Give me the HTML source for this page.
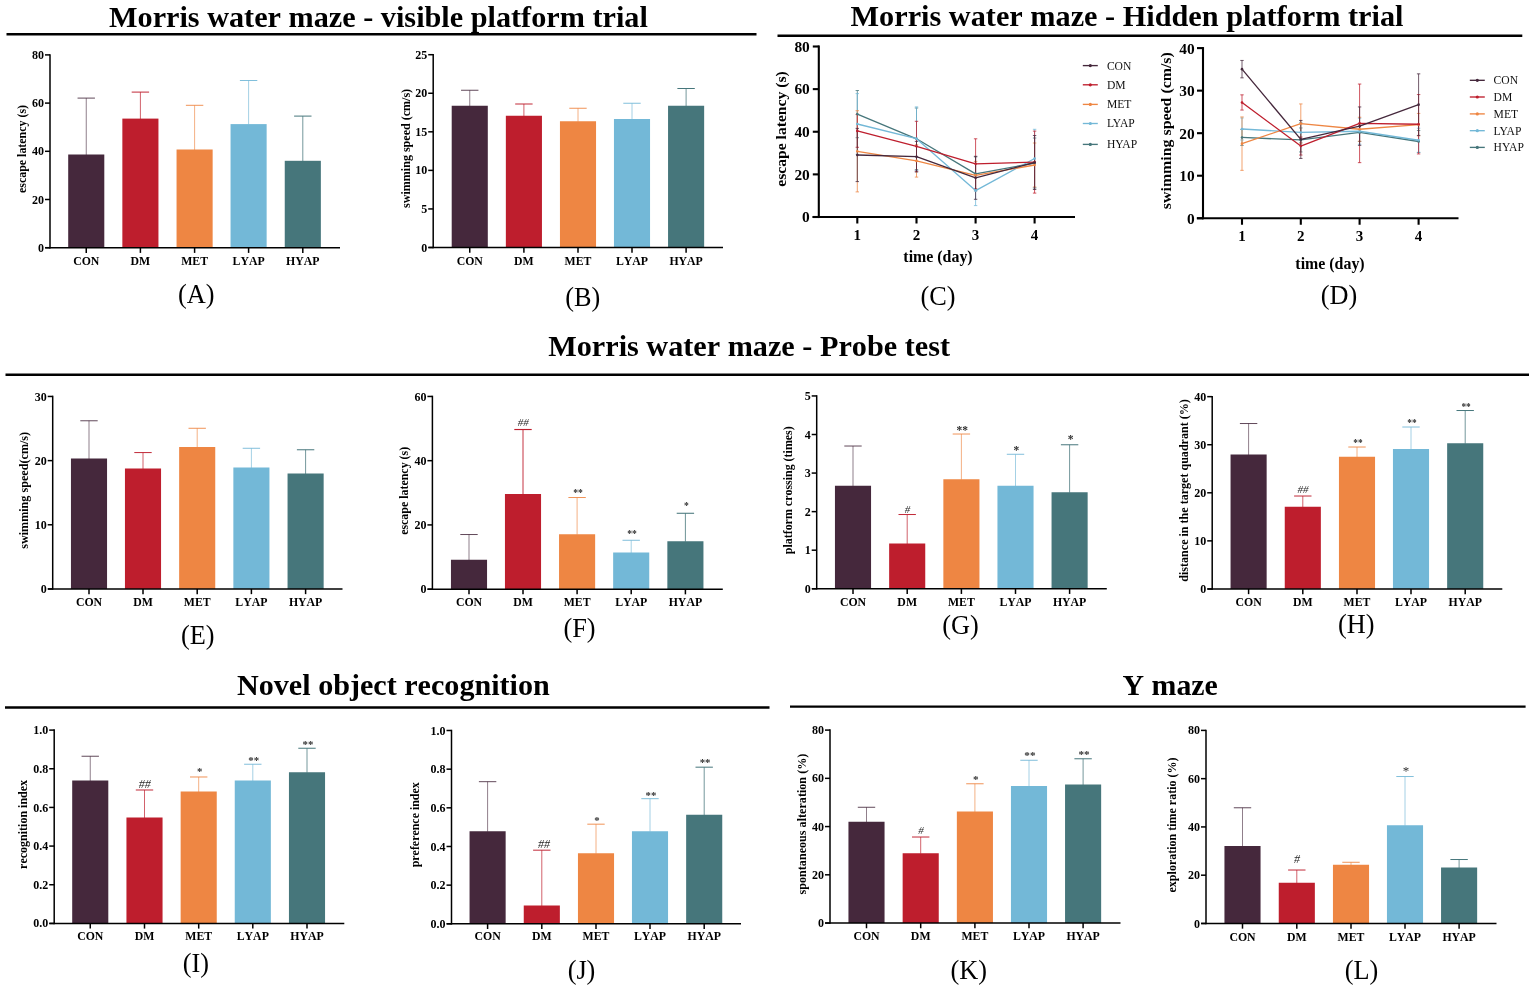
<!DOCTYPE html>
<html lang="en">
<head>
<meta charset="utf-8">
<title>Behavioral test results</title>
<style>
html,body{margin:0;padding:0;background:#fff;}
body{width:1535px;height:989px;overflow:hidden;font-family:"Liberation Serif","DejaVu Serif",serif;}
svg{display:block;}
text{font-family:"Liberation Serif","DejaVu Serif",serif;font-kerning:none;}
</style>
</head>
<body>
<svg width="1535" height="989" viewBox="0 0 1535 989" font-family='"Liberation Serif","DejaVu Serif",serif'>
<rect width="1535" height="989" fill="#fff"/>
<text x="378.4" y="26.6" font-size="30.4" text-anchor="middle" fill="#000" font-weight="bold" textLength="538.8" lengthAdjust="spacingAndGlyphs">Morris water maze - visible platform trial</text>
<line x1="6.5" y1="34.2" x2="756.5" y2="34.2" stroke="#000" stroke-width="2.4"/>
<text x="1127" y="25.8" font-size="30.4" text-anchor="middle" fill="#000" font-weight="bold" textLength="553" lengthAdjust="spacingAndGlyphs">Morris water maze - Hidden platform trial</text>
<line x1="777.5" y1="35.8" x2="1522.3" y2="35.8" stroke="#000" stroke-width="2.4"/>
<text x="749.1" y="356.2" font-size="30.4" text-anchor="middle" fill="#000" font-weight="bold" textLength="401.8" lengthAdjust="spacingAndGlyphs">Morris water maze - Probe test</text>
<line x1="5.5" y1="374.7" x2="1529" y2="374.7" stroke="#000" stroke-width="2.4"/>
<text x="393.4" y="695" font-size="30.4" text-anchor="middle" fill="#000" font-weight="bold" textLength="312.8" lengthAdjust="spacingAndGlyphs">Novel object recognition</text>
<line x1="5" y1="707.5" x2="769.5" y2="707.5" stroke="#000" stroke-width="2.4"/>
<text x="1170.2" y="695.2" font-size="30.4" text-anchor="middle" fill="#000" font-weight="bold" textLength="95.2" lengthAdjust="spacingAndGlyphs">Y maze</text>
<line x1="790" y1="706.6" x2="1525.6" y2="706.6" stroke="#000" stroke-width="2.4"/>
<g>
<line x1="86.25" y1="98.1" x2="86.25" y2="155" stroke="#45283c" stroke-width="0.6"/>
<line x1="77.55" y1="98.1" x2="94.95" y2="98.1" stroke="#45283c" stroke-width="0.85"/>
<rect x="68.2" y="154.5" width="36.1" height="93.2" fill="#45283c"/>
<line x1="140.4" y1="92.1" x2="140.4" y2="119.1" stroke="#be1e2d" stroke-width="0.7"/>
<line x1="131.7" y1="92.1" x2="149.1" y2="92.1" stroke="#be1e2d" stroke-width="0.95"/>
<rect x="122.35" y="118.6" width="36.1" height="129.1" fill="#be1e2d"/>
<line x1="194.6" y1="105.3" x2="194.6" y2="150" stroke="#ee8643" stroke-width="0.65"/>
<line x1="185.9" y1="105.3" x2="203.3" y2="105.3" stroke="#ee8643" stroke-width="0.9"/>
<rect x="176.55" y="149.5" width="36.1" height="98.2" fill="#ee8643"/>
<line x1="248.6" y1="80.5" x2="248.6" y2="124.6" stroke="#73b8d7" stroke-width="0.65"/>
<line x1="239.9" y1="80.5" x2="257.3" y2="80.5" stroke="#73b8d7" stroke-width="0.9"/>
<rect x="230.55" y="124.1" width="36.1" height="123.6" fill="#73b8d7"/>
<line x1="302.8" y1="116.1" x2="302.8" y2="161.3" stroke="#46767b" stroke-width="0.75"/>
<line x1="294.1" y1="116.1" x2="311.5" y2="116.1" stroke="#46767b" stroke-width="1"/>
<rect x="284.75" y="160.8" width="36.1" height="86.9" fill="#46767b"/>
</g>
<g transform="translate(0 0)">
<line x1="50" y1="54.15" x2="50" y2="248.45" stroke="#000" stroke-width="1.5"/>
<line x1="45.3" y1="247.7" x2="340" y2="247.7" stroke="#000" stroke-width="1.5"/>
<line x1="45" y1="247.7" x2="50" y2="247.7" stroke="#000" stroke-width="1.5"/>
<text x="44" y="251.8" font-size="12" text-anchor="end" fill="#000" font-weight="bold">0</text>
<line x1="45" y1="199.5" x2="50" y2="199.5" stroke="#000" stroke-width="1.5"/>
<text x="44" y="203.6" font-size="12" text-anchor="end" fill="#000" font-weight="bold">20</text>
<line x1="45" y1="151.3" x2="50" y2="151.3" stroke="#000" stroke-width="1.5"/>
<text x="44" y="155.4" font-size="12" text-anchor="end" fill="#000" font-weight="bold">40</text>
<line x1="45" y1="103.1" x2="50" y2="103.1" stroke="#000" stroke-width="1.5"/>
<text x="44" y="107.2" font-size="12" text-anchor="end" fill="#000" font-weight="bold">60</text>
<line x1="45" y1="54.9" x2="50" y2="54.9" stroke="#000" stroke-width="1.5"/>
<text x="44" y="59" font-size="12" text-anchor="end" fill="#000" font-weight="bold">80</text>
<line x1="86.25" y1="247.7" x2="86.25" y2="252.9" stroke="#000" stroke-width="1.5"/>
<text x="86.25" y="264.6" font-size="11.8" text-anchor="middle" fill="#000" font-weight="bold">CON</text>
<line x1="140.4" y1="247.7" x2="140.4" y2="252.9" stroke="#000" stroke-width="1.5"/>
<text x="140.4" y="264.6" font-size="11.8" text-anchor="middle" fill="#000" font-weight="bold">DM</text>
<line x1="194.6" y1="247.7" x2="194.6" y2="252.9" stroke="#000" stroke-width="1.5"/>
<text x="194.6" y="264.6" font-size="11.8" text-anchor="middle" fill="#000" font-weight="bold">MET</text>
<line x1="248.6" y1="247.7" x2="248.6" y2="252.9" stroke="#000" stroke-width="1.5"/>
<text x="248.6" y="264.6" font-size="11.8" text-anchor="middle" fill="#000" font-weight="bold">LYAP</text>
<line x1="302.8" y1="247.7" x2="302.8" y2="252.9" stroke="#000" stroke-width="1.5"/>
<text x="302.8" y="264.6" font-size="11.8" text-anchor="middle" fill="#000" font-weight="bold">HYAP</text>
<text x="25.8" y="149" font-size="12" text-anchor="middle" fill="#000" font-weight="bold" textLength="88" lengthAdjust="spacingAndGlyphs" transform="rotate(-90 25.8 149)">escape latency (s)</text>
</g>
<text x="196.3" y="303.3" font-size="26.3" text-anchor="middle" fill="#000">(A)</text>
<g>
<line x1="469.75" y1="90.25" x2="469.75" y2="106.25" stroke="#45283c" stroke-width="0.6"/>
<line x1="461.05" y1="90.25" x2="478.45" y2="90.25" stroke="#45283c" stroke-width="0.85"/>
<rect x="451.7" y="105.75" width="36.1" height="141.75" fill="#45283c"/>
<line x1="523.9" y1="104" x2="523.9" y2="116.25" stroke="#be1e2d" stroke-width="0.7"/>
<line x1="515.2" y1="104" x2="532.6" y2="104" stroke="#be1e2d" stroke-width="0.95"/>
<rect x="505.85" y="115.75" width="36.1" height="131.75" fill="#be1e2d"/>
<line x1="578" y1="108.25" x2="578" y2="121.75" stroke="#ee8643" stroke-width="0.65"/>
<line x1="569.3" y1="108.25" x2="586.7" y2="108.25" stroke="#ee8643" stroke-width="0.9"/>
<rect x="559.95" y="121.25" width="36.1" height="126.25" fill="#ee8643"/>
<line x1="632" y1="103.25" x2="632" y2="119.5" stroke="#73b8d7" stroke-width="0.65"/>
<line x1="623.3" y1="103.25" x2="640.7" y2="103.25" stroke="#73b8d7" stroke-width="0.9"/>
<rect x="613.95" y="119" width="36.1" height="128.5" fill="#73b8d7"/>
<line x1="686.1" y1="88.5" x2="686.1" y2="106.25" stroke="#46767b" stroke-width="0.75"/>
<line x1="677.4" y1="88.5" x2="694.8" y2="88.5" stroke="#46767b" stroke-width="1"/>
<rect x="668.05" y="105.75" width="36.1" height="141.75" fill="#46767b"/>
</g>
<g transform="translate(0 0)">
<line x1="433.2" y1="53.95" x2="433.2" y2="248.25" stroke="#000" stroke-width="1.5"/>
<line x1="428.5" y1="247.5" x2="723" y2="247.5" stroke="#000" stroke-width="1.5"/>
<line x1="428.2" y1="247.5" x2="433.2" y2="247.5" stroke="#000" stroke-width="1.5"/>
<text x="427.2" y="251.6" font-size="12" text-anchor="end" fill="#000" font-weight="bold">0</text>
<line x1="428.2" y1="208.94" x2="433.2" y2="208.94" stroke="#000" stroke-width="1.5"/>
<text x="427.2" y="213.04" font-size="12" text-anchor="end" fill="#000" font-weight="bold">5</text>
<line x1="428.2" y1="170.38" x2="433.2" y2="170.38" stroke="#000" stroke-width="1.5"/>
<text x="427.2" y="174.48" font-size="12" text-anchor="end" fill="#000" font-weight="bold">10</text>
<line x1="428.2" y1="131.82" x2="433.2" y2="131.82" stroke="#000" stroke-width="1.5"/>
<text x="427.2" y="135.92" font-size="12" text-anchor="end" fill="#000" font-weight="bold">15</text>
<line x1="428.2" y1="93.26" x2="433.2" y2="93.26" stroke="#000" stroke-width="1.5"/>
<text x="427.2" y="97.36" font-size="12" text-anchor="end" fill="#000" font-weight="bold">20</text>
<line x1="428.2" y1="54.7" x2="433.2" y2="54.7" stroke="#000" stroke-width="1.5"/>
<text x="427.2" y="58.8" font-size="12" text-anchor="end" fill="#000" font-weight="bold">25</text>
<line x1="469.75" y1="247.5" x2="469.75" y2="252.7" stroke="#000" stroke-width="1.5"/>
<text x="469.75" y="264.5" font-size="11.8" text-anchor="middle" fill="#000" font-weight="bold">CON</text>
<line x1="523.9" y1="247.5" x2="523.9" y2="252.7" stroke="#000" stroke-width="1.5"/>
<text x="523.9" y="264.5" font-size="11.8" text-anchor="middle" fill="#000" font-weight="bold">DM</text>
<line x1="578" y1="247.5" x2="578" y2="252.7" stroke="#000" stroke-width="1.5"/>
<text x="578" y="264.5" font-size="11.8" text-anchor="middle" fill="#000" font-weight="bold">MET</text>
<line x1="632" y1="247.5" x2="632" y2="252.7" stroke="#000" stroke-width="1.5"/>
<text x="632" y="264.5" font-size="11.8" text-anchor="middle" fill="#000" font-weight="bold">LYAP</text>
<line x1="686.1" y1="247.5" x2="686.1" y2="252.7" stroke="#000" stroke-width="1.5"/>
<text x="686.1" y="264.5" font-size="11.8" text-anchor="middle" fill="#000" font-weight="bold">HYAP</text>
<text x="409.8" y="148.4" font-size="12" text-anchor="middle" fill="#000" font-weight="bold" textLength="119" lengthAdjust="spacingAndGlyphs" transform="rotate(-90 409.8 148.4)">swimming speed (cm/s)</text>
</g>
<text x="582.8" y="306.2" font-size="26.3" text-anchor="middle" fill="#000">(B)</text>
<g>
<line x1="89" y1="420.77" x2="89" y2="459" stroke="#45283c" stroke-width="0.6"/>
<line x1="80.3" y1="420.77" x2="97.7" y2="420.77" stroke="#45283c" stroke-width="0.85"/>
<rect x="70.95" y="458.5" width="36.1" height="130.45" fill="#45283c"/>
<line x1="143" y1="452.57" x2="143" y2="469" stroke="#be1e2d" stroke-width="0.7"/>
<line x1="134.3" y1="452.57" x2="151.7" y2="452.57" stroke="#be1e2d" stroke-width="0.95"/>
<rect x="124.95" y="468.5" width="36.1" height="120.45" fill="#be1e2d"/>
<line x1="197.2" y1="428.27" x2="197.2" y2="447.5" stroke="#ee8643" stroke-width="0.65"/>
<line x1="188.5" y1="428.27" x2="205.9" y2="428.27" stroke="#ee8643" stroke-width="0.9"/>
<rect x="179.15" y="447" width="36.1" height="141.95" fill="#ee8643"/>
<line x1="251.4" y1="448.27" x2="251.4" y2="468" stroke="#73b8d7" stroke-width="0.65"/>
<line x1="242.7" y1="448.27" x2="260.1" y2="448.27" stroke="#73b8d7" stroke-width="0.9"/>
<rect x="233.35" y="467.5" width="36.1" height="121.45" fill="#73b8d7"/>
<line x1="305.6" y1="449.77" x2="305.6" y2="474" stroke="#46767b" stroke-width="0.75"/>
<line x1="296.9" y1="449.77" x2="314.3" y2="449.77" stroke="#46767b" stroke-width="1"/>
<rect x="287.55" y="473.5" width="36.1" height="115.45" fill="#46767b"/>
</g>
<g transform="translate(0 0.45)">
<line x1="52.7" y1="395.25" x2="52.7" y2="589.25" stroke="#000" stroke-width="1.5"/>
<line x1="47.9" y1="588.5" x2="342.5" y2="588.5" stroke="#000" stroke-width="1.5"/>
<line x1="47.7" y1="588.5" x2="52.7" y2="588.5" stroke="#000" stroke-width="1.5"/>
<text x="46.7" y="592.6" font-size="12" text-anchor="end" fill="#000" font-weight="bold">0</text>
<line x1="47.7" y1="524.33" x2="52.7" y2="524.33" stroke="#000" stroke-width="1.5"/>
<text x="46.7" y="528.43" font-size="12" text-anchor="end" fill="#000" font-weight="bold">10</text>
<line x1="47.7" y1="460.17" x2="52.7" y2="460.17" stroke="#000" stroke-width="1.5"/>
<text x="46.7" y="464.27" font-size="12" text-anchor="end" fill="#000" font-weight="bold">20</text>
<line x1="47.7" y1="396" x2="52.7" y2="396" stroke="#000" stroke-width="1.5"/>
<text x="46.7" y="400.1" font-size="12" text-anchor="end" fill="#000" font-weight="bold">30</text>
<line x1="89" y1="588.5" x2="89" y2="593.7" stroke="#000" stroke-width="1.5"/>
<text x="89" y="605.6" font-size="11.8" text-anchor="middle" fill="#000" font-weight="bold">CON</text>
<line x1="143" y1="588.5" x2="143" y2="593.7" stroke="#000" stroke-width="1.5"/>
<text x="143" y="605.6" font-size="11.8" text-anchor="middle" fill="#000" font-weight="bold">DM</text>
<line x1="197.2" y1="588.5" x2="197.2" y2="593.7" stroke="#000" stroke-width="1.5"/>
<text x="197.2" y="605.6" font-size="11.8" text-anchor="middle" fill="#000" font-weight="bold">MET</text>
<line x1="251.4" y1="588.5" x2="251.4" y2="593.7" stroke="#000" stroke-width="1.5"/>
<text x="251.4" y="605.6" font-size="11.8" text-anchor="middle" fill="#000" font-weight="bold">LYAP</text>
<line x1="305.6" y1="588.5" x2="305.6" y2="593.7" stroke="#000" stroke-width="1.5"/>
<text x="305.6" y="605.6" font-size="11.8" text-anchor="middle" fill="#000" font-weight="bold">HYAP</text>
<text x="28.2" y="489.9" font-size="12" text-anchor="middle" fill="#000" font-weight="bold" textLength="117" lengthAdjust="spacingAndGlyphs" transform="rotate(-90 28.2 489.9)">swimming speed(cm/s)</text>
</g>
<text x="197.8" y="644" font-size="26.3" text-anchor="middle" fill="#000">(E)</text>
<g>
<line x1="469" y1="534.52" x2="469" y2="560.25" stroke="#45283c" stroke-width="0.6"/>
<line x1="460.3" y1="534.52" x2="477.7" y2="534.52" stroke="#45283c" stroke-width="0.85"/>
<rect x="450.95" y="559.75" width="36.1" height="29.4" fill="#45283c"/>
<line x1="523" y1="429.52" x2="523" y2="494.5" stroke="#be1e2d" stroke-width="0.9"/>
<line x1="514.3" y1="429.52" x2="531.7" y2="429.52" stroke="#be1e2d" stroke-width="1.15"/>
<rect x="504.95" y="494" width="36.1" height="95.15" fill="#be1e2d"/>
<line x1="577.1" y1="497.52" x2="577.1" y2="534.75" stroke="#ee8643" stroke-width="0.65"/>
<line x1="568.4" y1="497.52" x2="585.8" y2="497.52" stroke="#ee8643" stroke-width="0.9"/>
<rect x="559.05" y="534.25" width="36.1" height="54.9" fill="#ee8643"/>
<line x1="631.2" y1="540.27" x2="631.2" y2="553" stroke="#73b8d7" stroke-width="0.65"/>
<line x1="622.5" y1="540.27" x2="639.9" y2="540.27" stroke="#73b8d7" stroke-width="0.9"/>
<rect x="613.15" y="552.5" width="36.1" height="36.65" fill="#73b8d7"/>
<line x1="685.4" y1="513.27" x2="685.4" y2="541.75" stroke="#46767b" stroke-width="0.8"/>
<line x1="676.7" y1="513.27" x2="694.1" y2="513.27" stroke="#46767b" stroke-width="1.05"/>
<rect x="667.35" y="541.25" width="36.1" height="47.9" fill="#46767b"/>
<text x="523.3" y="426.07" font-size="11" text-anchor="middle" fill="#2a2a2a" font-style="italic">##</text>
<text x="578" y="495.72" font-size="9.6" text-anchor="middle" fill="#2e2e2e" font-weight="bold">**</text>
<text x="632.1" y="537.42" font-size="9.6" text-anchor="middle" fill="#2e2e2e" font-weight="bold">**</text>
<text x="686.3" y="508.92" font-size="9.6" text-anchor="middle" fill="#2e2e2e" font-weight="bold">*</text>
</g>
<g transform="translate(0 0.45)">
<line x1="432.4" y1="395.25" x2="432.4" y2="589.45" stroke="#000" stroke-width="1.5"/>
<line x1="427.6" y1="588.7" x2="722.8" y2="588.7" stroke="#000" stroke-width="1.5"/>
<line x1="427.4" y1="588.7" x2="432.4" y2="588.7" stroke="#000" stroke-width="1.5"/>
<text x="426.4" y="592.8" font-size="12" text-anchor="end" fill="#000" font-weight="bold">0</text>
<line x1="427.4" y1="524.47" x2="432.4" y2="524.47" stroke="#000" stroke-width="1.5"/>
<text x="426.4" y="528.57" font-size="12" text-anchor="end" fill="#000" font-weight="bold">20</text>
<line x1="427.4" y1="460.23" x2="432.4" y2="460.23" stroke="#000" stroke-width="1.5"/>
<text x="426.4" y="464.33" font-size="12" text-anchor="end" fill="#000" font-weight="bold">40</text>
<line x1="427.4" y1="396" x2="432.4" y2="396" stroke="#000" stroke-width="1.5"/>
<text x="426.4" y="400.1" font-size="12" text-anchor="end" fill="#000" font-weight="bold">60</text>
<line x1="469" y1="588.7" x2="469" y2="593.9" stroke="#000" stroke-width="1.5"/>
<text x="469" y="606" font-size="11.8" text-anchor="middle" fill="#000" font-weight="bold">CON</text>
<line x1="523" y1="588.7" x2="523" y2="593.9" stroke="#000" stroke-width="1.5"/>
<text x="523" y="606" font-size="11.8" text-anchor="middle" fill="#000" font-weight="bold">DM</text>
<line x1="577.1" y1="588.7" x2="577.1" y2="593.9" stroke="#000" stroke-width="1.5"/>
<text x="577.1" y="606" font-size="11.8" text-anchor="middle" fill="#000" font-weight="bold">MET</text>
<line x1="631.2" y1="588.7" x2="631.2" y2="593.9" stroke="#000" stroke-width="1.5"/>
<text x="631.2" y="606" font-size="11.8" text-anchor="middle" fill="#000" font-weight="bold">LYAP</text>
<line x1="685.4" y1="588.7" x2="685.4" y2="593.9" stroke="#000" stroke-width="1.5"/>
<text x="685.4" y="606" font-size="11.8" text-anchor="middle" fill="#000" font-weight="bold">HYAP</text>
<text x="408" y="490.4" font-size="12" text-anchor="middle" fill="#000" font-weight="bold" textLength="88" lengthAdjust="spacingAndGlyphs" transform="rotate(-90 408 490.4)">escape latency (s)</text>
</g>
<text x="579.5" y="636.8" font-size="26.3" text-anchor="middle" fill="#000">(F)</text>
<g>
<line x1="853" y1="446.02" x2="853" y2="486.25" stroke="#45283c" stroke-width="0.6"/>
<line x1="844.3" y1="446.02" x2="861.7" y2="446.02" stroke="#45283c" stroke-width="0.85"/>
<rect x="834.95" y="485.75" width="36.1" height="103" fill="#45283c"/>
<line x1="907.2" y1="514.52" x2="907.2" y2="544" stroke="#be1e2d" stroke-width="0.7"/>
<line x1="898.5" y1="514.52" x2="915.9" y2="514.52" stroke="#be1e2d" stroke-width="0.95"/>
<rect x="889.15" y="543.5" width="36.1" height="45.25" fill="#be1e2d"/>
<line x1="961.4" y1="434.02" x2="961.4" y2="479.75" stroke="#ee8643" stroke-width="0.65"/>
<line x1="952.7" y1="434.02" x2="970.1" y2="434.02" stroke="#ee8643" stroke-width="0.9"/>
<rect x="943.35" y="479.25" width="36.1" height="109.5" fill="#ee8643"/>
<line x1="1015.5" y1="454.27" x2="1015.5" y2="486.25" stroke="#73b8d7" stroke-width="0.65"/>
<line x1="1006.8" y1="454.27" x2="1024.2" y2="454.27" stroke="#73b8d7" stroke-width="0.9"/>
<rect x="997.45" y="485.75" width="36.1" height="103" fill="#73b8d7"/>
<line x1="1069.6" y1="444.77" x2="1069.6" y2="492.75" stroke="#46767b" stroke-width="0.75"/>
<line x1="1060.9" y1="444.77" x2="1078.3" y2="444.77" stroke="#46767b" stroke-width="1"/>
<rect x="1051.55" y="492.25" width="36.1" height="96.5" fill="#46767b"/>
<text x="907.5" y="513.08" font-size="11" text-anchor="middle" fill="#2a2a2a" font-style="italic">#</text>
<text x="962.3" y="433.59" font-size="11.5" text-anchor="middle" fill="#2e2e2e" font-weight="bold">**</text>
<text x="1016.4" y="453.59" font-size="11.5" text-anchor="middle" fill="#2e2e2e" font-weight="bold">*</text>
<text x="1070.5" y="443.19" font-size="11.5" text-anchor="middle" fill="#2e2e2e" font-weight="bold">*</text>
</g>
<g transform="translate(0 0.45)">
<line x1="816.7" y1="394.75" x2="816.7" y2="589.05" stroke="#000" stroke-width="1.5"/>
<line x1="812" y1="588.3" x2="1106.8" y2="588.3" stroke="#000" stroke-width="1.5"/>
<line x1="811.7" y1="588.3" x2="816.7" y2="588.3" stroke="#000" stroke-width="1.5"/>
<text x="810.7" y="592.4" font-size="12" text-anchor="end" fill="#000" font-weight="bold">0</text>
<line x1="811.7" y1="549.74" x2="816.7" y2="549.74" stroke="#000" stroke-width="1.5"/>
<text x="810.7" y="553.84" font-size="12" text-anchor="end" fill="#000" font-weight="bold">1</text>
<line x1="811.7" y1="511.18" x2="816.7" y2="511.18" stroke="#000" stroke-width="1.5"/>
<text x="810.7" y="515.28" font-size="12" text-anchor="end" fill="#000" font-weight="bold">2</text>
<line x1="811.7" y1="472.62" x2="816.7" y2="472.62" stroke="#000" stroke-width="1.5"/>
<text x="810.7" y="476.72" font-size="12" text-anchor="end" fill="#000" font-weight="bold">3</text>
<line x1="811.7" y1="434.06" x2="816.7" y2="434.06" stroke="#000" stroke-width="1.5"/>
<text x="810.7" y="438.16" font-size="12" text-anchor="end" fill="#000" font-weight="bold">4</text>
<line x1="811.7" y1="395.5" x2="816.7" y2="395.5" stroke="#000" stroke-width="1.5"/>
<text x="810.7" y="399.6" font-size="12" text-anchor="end" fill="#000" font-weight="bold">5</text>
<line x1="853" y1="588.3" x2="853" y2="593.5" stroke="#000" stroke-width="1.5"/>
<text x="853" y="605.15" font-size="11.8" text-anchor="middle" fill="#000" font-weight="bold">CON</text>
<line x1="907.2" y1="588.3" x2="907.2" y2="593.5" stroke="#000" stroke-width="1.5"/>
<text x="907.2" y="605.15" font-size="11.8" text-anchor="middle" fill="#000" font-weight="bold">DM</text>
<line x1="961.4" y1="588.3" x2="961.4" y2="593.5" stroke="#000" stroke-width="1.5"/>
<text x="961.4" y="605.15" font-size="11.8" text-anchor="middle" fill="#000" font-weight="bold">MET</text>
<line x1="1015.5" y1="588.3" x2="1015.5" y2="593.5" stroke="#000" stroke-width="1.5"/>
<text x="1015.5" y="605.15" font-size="11.8" text-anchor="middle" fill="#000" font-weight="bold">LYAP</text>
<line x1="1069.6" y1="588.3" x2="1069.6" y2="593.5" stroke="#000" stroke-width="1.5"/>
<text x="1069.6" y="605.15" font-size="11.8" text-anchor="middle" fill="#000" font-weight="bold">HYAP</text>
<text x="792" y="489.8" font-size="12" text-anchor="middle" fill="#000" font-weight="bold" textLength="128" lengthAdjust="spacingAndGlyphs" transform="rotate(-90 792 489.8)">platform crossing (times)</text>
</g>
<text x="960.5" y="633.8" font-size="26.3" text-anchor="middle" fill="#000">(G)</text>
<g>
<line x1="1248.6" y1="423.52" x2="1248.6" y2="455" stroke="#45283c" stroke-width="0.6"/>
<line x1="1239.9" y1="423.52" x2="1257.3" y2="423.52" stroke="#45283c" stroke-width="0.85"/>
<rect x="1230.55" y="454.5" width="36.1" height="134.45" fill="#45283c"/>
<line x1="1302.8" y1="496.02" x2="1302.8" y2="507.25" stroke="#be1e2d" stroke-width="0.7"/>
<line x1="1294.1" y1="496.02" x2="1311.5" y2="496.02" stroke="#be1e2d" stroke-width="0.95"/>
<rect x="1284.75" y="506.75" width="36.1" height="82.2" fill="#be1e2d"/>
<line x1="1357" y1="447.02" x2="1357" y2="457.25" stroke="#ee8643" stroke-width="0.65"/>
<line x1="1348.3" y1="447.02" x2="1365.7" y2="447.02" stroke="#ee8643" stroke-width="0.9"/>
<rect x="1338.95" y="456.75" width="36.1" height="132.2" fill="#ee8643"/>
<line x1="1411" y1="427.02" x2="1411" y2="449.5" stroke="#73b8d7" stroke-width="0.65"/>
<line x1="1402.3" y1="427.02" x2="1419.7" y2="427.02" stroke="#73b8d7" stroke-width="0.9"/>
<rect x="1392.95" y="449" width="36.1" height="139.95" fill="#73b8d7"/>
<line x1="1465.2" y1="410.52" x2="1465.2" y2="443.75" stroke="#46767b" stroke-width="0.75"/>
<line x1="1456.5" y1="410.52" x2="1473.9" y2="410.52" stroke="#46767b" stroke-width="1"/>
<rect x="1447.15" y="443.25" width="36.1" height="145.7" fill="#46767b"/>
<text x="1303.1" y="492.88" font-size="11" text-anchor="middle" fill="#2a2a2a" font-style="italic">##</text>
<text x="1357.9" y="446.08" font-size="9.3" text-anchor="middle" fill="#2e2e2e" font-weight="bold">**</text>
<text x="1411.9" y="425.58" font-size="9.3" text-anchor="middle" fill="#2e2e2e" font-weight="bold">**</text>
<text x="1466.1" y="409.78" font-size="9.3" text-anchor="middle" fill="#2e2e2e" font-weight="bold">**</text>
</g>
<g transform="translate(0 0.45)">
<line x1="1212.2" y1="395.45" x2="1212.2" y2="589.25" stroke="#000" stroke-width="1.5"/>
<line x1="1207.5" y1="588.5" x2="1502.3" y2="588.5" stroke="#000" stroke-width="1.5"/>
<line x1="1207.2" y1="588.5" x2="1212.2" y2="588.5" stroke="#000" stroke-width="1.5"/>
<text x="1206.2" y="592.6" font-size="12" text-anchor="end" fill="#000" font-weight="bold">0</text>
<line x1="1207.2" y1="540.42" x2="1212.2" y2="540.42" stroke="#000" stroke-width="1.5"/>
<text x="1206.2" y="544.52" font-size="12" text-anchor="end" fill="#000" font-weight="bold">10</text>
<line x1="1207.2" y1="492.35" x2="1212.2" y2="492.35" stroke="#000" stroke-width="1.5"/>
<text x="1206.2" y="496.45" font-size="12" text-anchor="end" fill="#000" font-weight="bold">20</text>
<line x1="1207.2" y1="444.27" x2="1212.2" y2="444.27" stroke="#000" stroke-width="1.5"/>
<text x="1206.2" y="448.38" font-size="12" text-anchor="end" fill="#000" font-weight="bold">30</text>
<line x1="1207.2" y1="396.2" x2="1212.2" y2="396.2" stroke="#000" stroke-width="1.5"/>
<text x="1206.2" y="400.3" font-size="12" text-anchor="end" fill="#000" font-weight="bold">40</text>
<line x1="1248.6" y1="588.5" x2="1248.6" y2="593.7" stroke="#000" stroke-width="1.5"/>
<text x="1248.6" y="605.55" font-size="11.8" text-anchor="middle" fill="#000" font-weight="bold">CON</text>
<line x1="1302.8" y1="588.5" x2="1302.8" y2="593.7" stroke="#000" stroke-width="1.5"/>
<text x="1302.8" y="605.55" font-size="11.8" text-anchor="middle" fill="#000" font-weight="bold">DM</text>
<line x1="1357" y1="588.5" x2="1357" y2="593.7" stroke="#000" stroke-width="1.5"/>
<text x="1357" y="605.55" font-size="11.8" text-anchor="middle" fill="#000" font-weight="bold">MET</text>
<line x1="1411" y1="588.5" x2="1411" y2="593.7" stroke="#000" stroke-width="1.5"/>
<text x="1411" y="605.55" font-size="11.8" text-anchor="middle" fill="#000" font-weight="bold">LYAP</text>
<line x1="1465.2" y1="588.5" x2="1465.2" y2="593.7" stroke="#000" stroke-width="1.5"/>
<text x="1465.2" y="605.55" font-size="11.8" text-anchor="middle" fill="#000" font-weight="bold">HYAP</text>
<text x="1188.1" y="490" font-size="12" text-anchor="middle" fill="#000" font-weight="bold" textLength="182.5" lengthAdjust="spacingAndGlyphs" transform="rotate(-90 1188.1 490)">distance in the target quadrant (%)</text>
</g>
<text x="1356.2" y="633.2" font-size="26.3" text-anchor="middle" fill="#000">(H)</text>
<g>
<line x1="90.25" y1="756.24" x2="90.25" y2="781" stroke="#45283c" stroke-width="0.6"/>
<line x1="81.55" y1="756.24" x2="98.95" y2="756.24" stroke="#45283c" stroke-width="0.85"/>
<rect x="72.2" y="780.5" width="36.1" height="142.9" fill="#45283c"/>
<line x1="144.5" y1="789.99" x2="144.5" y2="818" stroke="#be1e2d" stroke-width="0.7"/>
<line x1="135.8" y1="789.99" x2="153.2" y2="789.99" stroke="#be1e2d" stroke-width="0.95"/>
<rect x="126.45" y="817.5" width="36.1" height="105.9" fill="#be1e2d"/>
<line x1="198.7" y1="776.99" x2="198.7" y2="792" stroke="#ee8643" stroke-width="0.65"/>
<line x1="190" y1="776.99" x2="207.4" y2="776.99" stroke="#ee8643" stroke-width="0.9"/>
<rect x="180.65" y="791.5" width="36.1" height="131.9" fill="#ee8643"/>
<line x1="252.8" y1="764.24" x2="252.8" y2="781" stroke="#73b8d7" stroke-width="0.65"/>
<line x1="244.1" y1="764.24" x2="261.5" y2="764.24" stroke="#73b8d7" stroke-width="0.9"/>
<rect x="234.75" y="780.5" width="36.1" height="142.9" fill="#73b8d7"/>
<line x1="307" y1="748.24" x2="307" y2="772.75" stroke="#46767b" stroke-width="0.75"/>
<line x1="298.3" y1="748.24" x2="315.7" y2="748.24" stroke="#46767b" stroke-width="1"/>
<rect x="288.95" y="772.25" width="36.1" height="151.15" fill="#46767b"/>
<text x="144.8" y="788.4" font-size="12" text-anchor="middle" fill="#2a2a2a" font-style="italic">##</text>
<text x="199.6" y="775.47" font-size="10.8" text-anchor="middle" fill="#2e2e2e" font-weight="bold">*</text>
<text x="253.7" y="763.77" font-size="10.8" text-anchor="middle" fill="#2e2e2e" font-weight="bold">**</text>
<text x="307.9" y="748.27" font-size="10.8" text-anchor="middle" fill="#2e2e2e" font-weight="bold">**</text>
</g>
<g transform="translate(0 0.4)">
<line x1="54.2" y1="728.95" x2="54.2" y2="923.75" stroke="#000" stroke-width="1.5"/>
<line x1="49.4" y1="923" x2="344.3" y2="923" stroke="#000" stroke-width="1.5"/>
<line x1="49.2" y1="923" x2="54.2" y2="923" stroke="#000" stroke-width="1.5"/>
<text x="48.2" y="927.1" font-size="12" text-anchor="end" fill="#000" font-weight="bold">0.0</text>
<line x1="49.2" y1="884.34" x2="54.2" y2="884.34" stroke="#000" stroke-width="1.5"/>
<text x="48.2" y="888.44" font-size="12" text-anchor="end" fill="#000" font-weight="bold">0.2</text>
<line x1="49.2" y1="845.68" x2="54.2" y2="845.68" stroke="#000" stroke-width="1.5"/>
<text x="48.2" y="849.78" font-size="12" text-anchor="end" fill="#000" font-weight="bold">0.4</text>
<line x1="49.2" y1="807.02" x2="54.2" y2="807.02" stroke="#000" stroke-width="1.5"/>
<text x="48.2" y="811.12" font-size="12" text-anchor="end" fill="#000" font-weight="bold">0.6</text>
<line x1="49.2" y1="768.36" x2="54.2" y2="768.36" stroke="#000" stroke-width="1.5"/>
<text x="48.2" y="772.46" font-size="12" text-anchor="end" fill="#000" font-weight="bold">0.8</text>
<line x1="49.2" y1="729.7" x2="54.2" y2="729.7" stroke="#000" stroke-width="1.5"/>
<text x="48.2" y="733.8" font-size="12" text-anchor="end" fill="#000" font-weight="bold">1.0</text>
<line x1="90.25" y1="923" x2="90.25" y2="928.2" stroke="#000" stroke-width="1.5"/>
<text x="90.25" y="939.6" font-size="11.8" text-anchor="middle" fill="#000" font-weight="bold">CON</text>
<line x1="144.5" y1="923" x2="144.5" y2="928.2" stroke="#000" stroke-width="1.5"/>
<text x="144.5" y="939.6" font-size="11.8" text-anchor="middle" fill="#000" font-weight="bold">DM</text>
<line x1="198.7" y1="923" x2="198.7" y2="928.2" stroke="#000" stroke-width="1.5"/>
<text x="198.7" y="939.6" font-size="11.8" text-anchor="middle" fill="#000" font-weight="bold">MET</text>
<line x1="252.8" y1="923" x2="252.8" y2="928.2" stroke="#000" stroke-width="1.5"/>
<text x="252.8" y="939.6" font-size="11.8" text-anchor="middle" fill="#000" font-weight="bold">LYAP</text>
<line x1="307" y1="923" x2="307" y2="928.2" stroke="#000" stroke-width="1.5"/>
<text x="307" y="939.6" font-size="11.8" text-anchor="middle" fill="#000" font-weight="bold">HYAP</text>
<text x="27" y="824" font-size="12" text-anchor="middle" fill="#000" font-weight="bold" textLength="89" lengthAdjust="spacingAndGlyphs" transform="rotate(-90 27 824)">recognition index</text>
</g>
<text x="195.8" y="971.6" font-size="26.3" text-anchor="middle" fill="#000">(I)</text>
<g>
<line x1="487.6" y1="781.68" x2="487.6" y2="831.75" stroke="#45283c" stroke-width="0.6"/>
<line x1="478.9" y1="781.68" x2="496.3" y2="781.68" stroke="#45283c" stroke-width="0.85"/>
<rect x="469.55" y="831.25" width="36.1" height="92.55" fill="#45283c"/>
<line x1="541.8" y1="850.18" x2="541.8" y2="906" stroke="#be1e2d" stroke-width="0.7"/>
<line x1="533.1" y1="850.18" x2="550.5" y2="850.18" stroke="#be1e2d" stroke-width="0.95"/>
<rect x="523.75" y="905.5" width="36.1" height="18.3" fill="#be1e2d"/>
<line x1="596" y1="824.18" x2="596" y2="853.75" stroke="#ee8643" stroke-width="0.65"/>
<line x1="587.3" y1="824.18" x2="604.7" y2="824.18" stroke="#ee8643" stroke-width="0.9"/>
<rect x="577.95" y="853.25" width="36.1" height="70.55" fill="#ee8643"/>
<line x1="650" y1="798.68" x2="650" y2="831.75" stroke="#73b8d7" stroke-width="0.65"/>
<line x1="641.3" y1="798.68" x2="658.7" y2="798.68" stroke="#73b8d7" stroke-width="0.9"/>
<rect x="631.95" y="831.25" width="36.1" height="92.55" fill="#73b8d7"/>
<line x1="704.2" y1="767.18" x2="704.2" y2="815.25" stroke="#46767b" stroke-width="0.75"/>
<line x1="695.5" y1="767.18" x2="712.9" y2="767.18" stroke="#46767b" stroke-width="1"/>
<rect x="686.15" y="814.75" width="36.1" height="109.05" fill="#46767b"/>
<text x="543.9" y="847.9" font-size="12" text-anchor="middle" fill="#2a2a2a" font-style="italic">##</text>
<text x="596.9" y="823.77" font-size="10.8" text-anchor="middle" fill="#2e2e2e" font-weight="bold">*</text>
<text x="650.9" y="798.97" font-size="10.8" text-anchor="middle" fill="#2e2e2e" font-weight="bold">**</text>
<text x="705.1" y="766.47" font-size="10.8" text-anchor="middle" fill="#2e2e2e" font-weight="bold">**</text>
</g>
<g transform="translate(0 0.3)">
<line x1="451.5" y1="729.45" x2="451.5" y2="924.25" stroke="#000" stroke-width="1.5"/>
<line x1="446.7" y1="923.5" x2="741" y2="923.5" stroke="#000" stroke-width="1.5"/>
<line x1="446.5" y1="923.5" x2="451.5" y2="923.5" stroke="#000" stroke-width="1.5"/>
<text x="445.5" y="927.6" font-size="12" text-anchor="end" fill="#000" font-weight="bold">0.0</text>
<line x1="446.5" y1="884.84" x2="451.5" y2="884.84" stroke="#000" stroke-width="1.5"/>
<text x="445.5" y="888.94" font-size="12" text-anchor="end" fill="#000" font-weight="bold">0.2</text>
<line x1="446.5" y1="846.18" x2="451.5" y2="846.18" stroke="#000" stroke-width="1.5"/>
<text x="445.5" y="850.28" font-size="12" text-anchor="end" fill="#000" font-weight="bold">0.4</text>
<line x1="446.5" y1="807.52" x2="451.5" y2="807.52" stroke="#000" stroke-width="1.5"/>
<text x="445.5" y="811.62" font-size="12" text-anchor="end" fill="#000" font-weight="bold">0.6</text>
<line x1="446.5" y1="768.86" x2="451.5" y2="768.86" stroke="#000" stroke-width="1.5"/>
<text x="445.5" y="772.96" font-size="12" text-anchor="end" fill="#000" font-weight="bold">0.8</text>
<line x1="446.5" y1="730.2" x2="451.5" y2="730.2" stroke="#000" stroke-width="1.5"/>
<text x="445.5" y="734.3" font-size="12" text-anchor="end" fill="#000" font-weight="bold">1.0</text>
<line x1="487.6" y1="923.5" x2="487.6" y2="928.7" stroke="#000" stroke-width="1.5"/>
<text x="487.6" y="940.15" font-size="11.8" text-anchor="middle" fill="#000" font-weight="bold">CON</text>
<line x1="541.8" y1="923.5" x2="541.8" y2="928.7" stroke="#000" stroke-width="1.5"/>
<text x="541.8" y="940.15" font-size="11.8" text-anchor="middle" fill="#000" font-weight="bold">DM</text>
<line x1="596" y1="923.5" x2="596" y2="928.7" stroke="#000" stroke-width="1.5"/>
<text x="596" y="940.15" font-size="11.8" text-anchor="middle" fill="#000" font-weight="bold">MET</text>
<line x1="650" y1="923.5" x2="650" y2="928.7" stroke="#000" stroke-width="1.5"/>
<text x="650" y="940.15" font-size="11.8" text-anchor="middle" fill="#000" font-weight="bold">LYAP</text>
<line x1="704.2" y1="923.5" x2="704.2" y2="928.7" stroke="#000" stroke-width="1.5"/>
<text x="704.2" y="940.15" font-size="11.8" text-anchor="middle" fill="#000" font-weight="bold">HYAP</text>
<text x="419.3" y="824.5" font-size="12" text-anchor="middle" fill="#000" font-weight="bold" textLength="85" lengthAdjust="spacingAndGlyphs" transform="rotate(-90 419.3 824.5)">preference index</text>
</g>
<text x="581.5" y="978.8" font-size="26.3" text-anchor="middle" fill="#000">(J)</text>
<g>
<line x1="866.5" y1="807.27" x2="866.5" y2="822.25" stroke="#45283c" stroke-width="0.6"/>
<line x1="857.8" y1="807.27" x2="875.2" y2="807.27" stroke="#45283c" stroke-width="0.85"/>
<rect x="848.45" y="821.75" width="36.1" height="101.3" fill="#45283c"/>
<line x1="920.7" y1="837.02" x2="920.7" y2="853.75" stroke="#be1e2d" stroke-width="0.7"/>
<line x1="912" y1="837.02" x2="929.4" y2="837.02" stroke="#be1e2d" stroke-width="0.95"/>
<rect x="902.65" y="853.25" width="36.1" height="69.8" fill="#be1e2d"/>
<line x1="974.9" y1="783.77" x2="974.9" y2="812" stroke="#ee8643" stroke-width="0.65"/>
<line x1="966.2" y1="783.77" x2="983.6" y2="783.77" stroke="#ee8643" stroke-width="0.9"/>
<rect x="956.85" y="811.5" width="36.1" height="111.55" fill="#ee8643"/>
<line x1="1029" y1="760.27" x2="1029" y2="786.5" stroke="#73b8d7" stroke-width="0.65"/>
<line x1="1020.3" y1="760.27" x2="1037.7" y2="760.27" stroke="#73b8d7" stroke-width="0.9"/>
<rect x="1010.95" y="786" width="36.1" height="137.05" fill="#73b8d7"/>
<line x1="1083.1" y1="758.77" x2="1083.1" y2="785" stroke="#46767b" stroke-width="0.75"/>
<line x1="1074.4" y1="758.77" x2="1091.8" y2="758.77" stroke="#46767b" stroke-width="1"/>
<rect x="1065.05" y="784.5" width="36.1" height="138.55" fill="#46767b"/>
<text x="921" y="834.38" font-size="11" text-anchor="middle" fill="#2a2a2a" font-style="italic">#</text>
<text x="975.8" y="783.45" font-size="11.2" text-anchor="middle" fill="#2e2e2e" font-weight="bold">*</text>
<text x="1029.9" y="759.15" font-size="11.2" text-anchor="middle" fill="#2e2e2e" font-weight="bold">**</text>
<text x="1084" y="757.95" font-size="11.2" text-anchor="middle" fill="#2e2e2e" font-weight="bold">**</text>
</g>
<g transform="translate(0 0.45)">
<line x1="830" y1="728.9" x2="830" y2="923.35" stroke="#000" stroke-width="1.5"/>
<line x1="825.2" y1="922.6" x2="1120.5" y2="922.6" stroke="#000" stroke-width="1.5"/>
<line x1="825" y1="922.6" x2="830" y2="922.6" stroke="#000" stroke-width="1.5"/>
<text x="824" y="926.7" font-size="12" text-anchor="end" fill="#000" font-weight="bold">0</text>
<line x1="825" y1="874.36" x2="830" y2="874.36" stroke="#000" stroke-width="1.5"/>
<text x="824" y="878.46" font-size="12" text-anchor="end" fill="#000" font-weight="bold">20</text>
<line x1="825" y1="826.12" x2="830" y2="826.12" stroke="#000" stroke-width="1.5"/>
<text x="824" y="830.23" font-size="12" text-anchor="end" fill="#000" font-weight="bold">40</text>
<line x1="825" y1="777.89" x2="830" y2="777.89" stroke="#000" stroke-width="1.5"/>
<text x="824" y="781.99" font-size="12" text-anchor="end" fill="#000" font-weight="bold">60</text>
<line x1="825" y1="729.65" x2="830" y2="729.65" stroke="#000" stroke-width="1.5"/>
<text x="824" y="733.75" font-size="12" text-anchor="end" fill="#000" font-weight="bold">80</text>
<line x1="866.5" y1="922.6" x2="866.5" y2="927.8" stroke="#000" stroke-width="1.5"/>
<text x="866.5" y="939.85" font-size="11.8" text-anchor="middle" fill="#000" font-weight="bold">CON</text>
<line x1="920.7" y1="922.6" x2="920.7" y2="927.8" stroke="#000" stroke-width="1.5"/>
<text x="920.7" y="939.85" font-size="11.8" text-anchor="middle" fill="#000" font-weight="bold">DM</text>
<line x1="974.9" y1="922.6" x2="974.9" y2="927.8" stroke="#000" stroke-width="1.5"/>
<text x="974.9" y="939.85" font-size="11.8" text-anchor="middle" fill="#000" font-weight="bold">MET</text>
<line x1="1029" y1="922.6" x2="1029" y2="927.8" stroke="#000" stroke-width="1.5"/>
<text x="1029" y="939.85" font-size="11.8" text-anchor="middle" fill="#000" font-weight="bold">LYAP</text>
<line x1="1083.1" y1="922.6" x2="1083.1" y2="927.8" stroke="#000" stroke-width="1.5"/>
<text x="1083.1" y="939.85" font-size="11.8" text-anchor="middle" fill="#000" font-weight="bold">HYAP</text>
<text x="805.8" y="823.6" font-size="12" text-anchor="middle" fill="#000" font-weight="bold" textLength="140.8" lengthAdjust="spacingAndGlyphs" transform="rotate(-90 805.8 823.6)">spontaneous alteration (%)</text>
</g>
<text x="968.8" y="978.8" font-size="26.3" text-anchor="middle" fill="#000">(K)</text>
<g>
<line x1="1242.5" y1="807.77" x2="1242.5" y2="846.5" stroke="#45283c" stroke-width="0.6"/>
<line x1="1233.8" y1="807.77" x2="1251.2" y2="807.77" stroke="#45283c" stroke-width="0.85"/>
<rect x="1224.45" y="846" width="36.1" height="77.45" fill="#45283c"/>
<line x1="1296.8" y1="870.02" x2="1296.8" y2="883.25" stroke="#be1e2d" stroke-width="0.7"/>
<line x1="1288.1" y1="870.02" x2="1305.5" y2="870.02" stroke="#be1e2d" stroke-width="0.95"/>
<rect x="1278.75" y="882.75" width="36.1" height="40.7" fill="#be1e2d"/>
<line x1="1351" y1="862.27" x2="1351" y2="865.25" stroke="#ee8643" stroke-width="0.65"/>
<line x1="1342.3" y1="862.27" x2="1359.7" y2="862.27" stroke="#ee8643" stroke-width="0.9"/>
<rect x="1332.95" y="864.75" width="36.1" height="58.7" fill="#ee8643"/>
<line x1="1405" y1="776.52" x2="1405" y2="825.75" stroke="#73b8d7" stroke-width="0.65"/>
<line x1="1396.3" y1="776.52" x2="1413.7" y2="776.52" stroke="#73b8d7" stroke-width="0.9"/>
<rect x="1386.95" y="825.25" width="36.1" height="98.2" fill="#73b8d7"/>
<line x1="1459.1" y1="859.52" x2="1459.1" y2="868" stroke="#46767b" stroke-width="0.75"/>
<line x1="1450.4" y1="859.52" x2="1467.8" y2="859.52" stroke="#46767b" stroke-width="1"/>
<rect x="1441.05" y="867.5" width="36.1" height="55.95" fill="#46767b"/>
<text x="1297.1" y="862.9" font-size="12" text-anchor="middle" fill="#2a2a2a" font-style="italic">#</text>
<text x="1405.9" y="775.48" font-size="13" text-anchor="middle" fill="#2e2e2e">*</text>
</g>
<g transform="translate(0 0.45)">
<line x1="1206" y1="729.2" x2="1206" y2="923.75" stroke="#000" stroke-width="1.5"/>
<line x1="1201.2" y1="923" x2="1496.5" y2="923" stroke="#000" stroke-width="1.5"/>
<line x1="1201" y1="923" x2="1206" y2="923" stroke="#000" stroke-width="1.5"/>
<text x="1200" y="927.1" font-size="12" text-anchor="end" fill="#000" font-weight="bold">0</text>
<line x1="1201" y1="874.74" x2="1206" y2="874.74" stroke="#000" stroke-width="1.5"/>
<text x="1200" y="878.84" font-size="12" text-anchor="end" fill="#000" font-weight="bold">20</text>
<line x1="1201" y1="826.48" x2="1206" y2="826.48" stroke="#000" stroke-width="1.5"/>
<text x="1200" y="830.58" font-size="12" text-anchor="end" fill="#000" font-weight="bold">40</text>
<line x1="1201" y1="778.21" x2="1206" y2="778.21" stroke="#000" stroke-width="1.5"/>
<text x="1200" y="782.31" font-size="12" text-anchor="end" fill="#000" font-weight="bold">60</text>
<line x1="1201" y1="729.95" x2="1206" y2="729.95" stroke="#000" stroke-width="1.5"/>
<text x="1200" y="734.05" font-size="12" text-anchor="end" fill="#000" font-weight="bold">80</text>
<line x1="1242.5" y1="923" x2="1242.5" y2="928.2" stroke="#000" stroke-width="1.5"/>
<text x="1242.5" y="940.35" font-size="11.8" text-anchor="middle" fill="#000" font-weight="bold">CON</text>
<line x1="1296.8" y1="923" x2="1296.8" y2="928.2" stroke="#000" stroke-width="1.5"/>
<text x="1296.8" y="940.35" font-size="11.8" text-anchor="middle" fill="#000" font-weight="bold">DM</text>
<line x1="1351" y1="923" x2="1351" y2="928.2" stroke="#000" stroke-width="1.5"/>
<text x="1351" y="940.35" font-size="11.8" text-anchor="middle" fill="#000" font-weight="bold">MET</text>
<line x1="1405" y1="923" x2="1405" y2="928.2" stroke="#000" stroke-width="1.5"/>
<text x="1405" y="940.35" font-size="11.8" text-anchor="middle" fill="#000" font-weight="bold">LYAP</text>
<line x1="1459.1" y1="923" x2="1459.1" y2="928.2" stroke="#000" stroke-width="1.5"/>
<text x="1459.1" y="940.35" font-size="11.8" text-anchor="middle" fill="#000" font-weight="bold">HYAP</text>
<text x="1175.7" y="824.5" font-size="12" text-anchor="middle" fill="#000" font-weight="bold" textLength="135" lengthAdjust="spacingAndGlyphs" transform="rotate(-90 1175.7 824.5)">exploration time ratio (%)</text>
</g>
<text x="1361.5" y="978.8" font-size="26.3" text-anchor="middle" fill="#000">(L)</text>
<g transform="translate(0 0.5)">
<line x1="857.3" y1="90" x2="857.3" y2="137.2" stroke="#46767b" stroke-width="0.9" stroke-opacity="0.85"/>
<line x1="855.6" y1="90" x2="859" y2="90" stroke="#46767b" stroke-width="0.9" stroke-opacity="0.85"/>
<line x1="855.6" y1="137.2" x2="859" y2="137.2" stroke="#46767b" stroke-width="0.9" stroke-opacity="0.85"/>
<line x1="916.5" y1="107.5" x2="916.5" y2="169.1" stroke="#46767b" stroke-width="0.9" stroke-opacity="0.85"/>
<line x1="914.8" y1="107.5" x2="918.2" y2="107.5" stroke="#46767b" stroke-width="0.9" stroke-opacity="0.85"/>
<line x1="914.8" y1="169.1" x2="918.2" y2="169.1" stroke="#46767b" stroke-width="0.9" stroke-opacity="0.85"/>
<line x1="975.6" y1="156.4" x2="975.6" y2="190.4" stroke="#46767b" stroke-width="0.9" stroke-opacity="0.85"/>
<line x1="973.9" y1="156.4" x2="977.3" y2="156.4" stroke="#46767b" stroke-width="0.9" stroke-opacity="0.85"/>
<line x1="973.9" y1="190.4" x2="977.3" y2="190.4" stroke="#46767b" stroke-width="0.9" stroke-opacity="0.85"/>
<line x1="1034.6" y1="137.5" x2="1034.6" y2="187.5" stroke="#46767b" stroke-width="0.9" stroke-opacity="0.85"/>
<line x1="1032.9" y1="137.5" x2="1036.3" y2="137.5" stroke="#46767b" stroke-width="0.9" stroke-opacity="0.85"/>
<line x1="1032.9" y1="187.5" x2="1036.3" y2="187.5" stroke="#46767b" stroke-width="0.9" stroke-opacity="0.85"/>
<line x1="857.3" y1="93.1" x2="857.3" y2="153.9" stroke="#73b8d7" stroke-width="0.9" stroke-opacity="0.85"/>
<line x1="855.6" y1="93.1" x2="859" y2="93.1" stroke="#73b8d7" stroke-width="0.9" stroke-opacity="0.85"/>
<line x1="855.6" y1="153.9" x2="859" y2="153.9" stroke="#73b8d7" stroke-width="0.9" stroke-opacity="0.85"/>
<line x1="916.5" y1="106.4" x2="916.5" y2="170" stroke="#73b8d7" stroke-width="0.9" stroke-opacity="0.85"/>
<line x1="914.8" y1="106.4" x2="918.2" y2="106.4" stroke="#73b8d7" stroke-width="0.9" stroke-opacity="0.85"/>
<line x1="914.8" y1="170" x2="918.2" y2="170" stroke="#73b8d7" stroke-width="0.9" stroke-opacity="0.85"/>
<line x1="975.6" y1="175.1" x2="975.6" y2="205.1" stroke="#73b8d7" stroke-width="0.9" stroke-opacity="0.85"/>
<line x1="973.9" y1="175.1" x2="977.3" y2="175.1" stroke="#73b8d7" stroke-width="0.9" stroke-opacity="0.85"/>
<line x1="973.9" y1="205.1" x2="977.3" y2="205.1" stroke="#73b8d7" stroke-width="0.9" stroke-opacity="0.85"/>
<line x1="1034.6" y1="128.8" x2="1034.6" y2="187.2" stroke="#73b8d7" stroke-width="0.9" stroke-opacity="0.85"/>
<line x1="1032.9" y1="128.8" x2="1036.3" y2="128.8" stroke="#73b8d7" stroke-width="0.9" stroke-opacity="0.85"/>
<line x1="1032.9" y1="187.2" x2="1036.3" y2="187.2" stroke="#73b8d7" stroke-width="0.9" stroke-opacity="0.85"/>
<line x1="857.3" y1="110.2" x2="857.3" y2="191.4" stroke="#ee8643" stroke-width="0.9" stroke-opacity="0.85"/>
<line x1="855.6" y1="110.2" x2="859" y2="110.2" stroke="#ee8643" stroke-width="0.9" stroke-opacity="0.85"/>
<line x1="855.6" y1="191.4" x2="859" y2="191.4" stroke="#ee8643" stroke-width="0.9" stroke-opacity="0.85"/>
<line x1="916.5" y1="144.2" x2="916.5" y2="176.6" stroke="#ee8643" stroke-width="0.9" stroke-opacity="0.85"/>
<line x1="914.8" y1="144.2" x2="918.2" y2="144.2" stroke="#ee8643" stroke-width="0.9" stroke-opacity="0.85"/>
<line x1="914.8" y1="176.6" x2="918.2" y2="176.6" stroke="#ee8643" stroke-width="0.9" stroke-opacity="0.85"/>
<line x1="975.6" y1="160.9" x2="975.6" y2="188.9" stroke="#ee8643" stroke-width="0.9" stroke-opacity="0.85"/>
<line x1="973.9" y1="160.9" x2="977.3" y2="160.9" stroke="#ee8643" stroke-width="0.9" stroke-opacity="0.85"/>
<line x1="973.9" y1="188.9" x2="977.3" y2="188.9" stroke="#ee8643" stroke-width="0.9" stroke-opacity="0.85"/>
<line x1="1034.6" y1="142.5" x2="1034.6" y2="186.5" stroke="#ee8643" stroke-width="0.9" stroke-opacity="0.85"/>
<line x1="1032.9" y1="142.5" x2="1036.3" y2="142.5" stroke="#ee8643" stroke-width="0.9" stroke-opacity="0.85"/>
<line x1="1032.9" y1="186.5" x2="1036.3" y2="186.5" stroke="#ee8643" stroke-width="0.9" stroke-opacity="0.85"/>
<line x1="857.3" y1="114" x2="857.3" y2="146.8" stroke="#be1e2d" stroke-width="0.9" stroke-opacity="0.85"/>
<line x1="855.6" y1="114" x2="859" y2="114" stroke="#be1e2d" stroke-width="0.9" stroke-opacity="0.85"/>
<line x1="855.6" y1="146.8" x2="859" y2="146.8" stroke="#be1e2d" stroke-width="0.9" stroke-opacity="0.85"/>
<line x1="916.5" y1="120.8" x2="916.5" y2="170.8" stroke="#be1e2d" stroke-width="0.9" stroke-opacity="0.85"/>
<line x1="914.8" y1="120.8" x2="918.2" y2="120.8" stroke="#be1e2d" stroke-width="0.9" stroke-opacity="0.85"/>
<line x1="914.8" y1="170.8" x2="918.2" y2="170.8" stroke="#be1e2d" stroke-width="0.9" stroke-opacity="0.85"/>
<line x1="975.6" y1="138.3" x2="975.6" y2="188.3" stroke="#be1e2d" stroke-width="0.9" stroke-opacity="0.85"/>
<line x1="973.9" y1="138.3" x2="977.3" y2="138.3" stroke="#be1e2d" stroke-width="0.9" stroke-opacity="0.85"/>
<line x1="973.9" y1="188.3" x2="977.3" y2="188.3" stroke="#be1e2d" stroke-width="0.9" stroke-opacity="0.85"/>
<line x1="1034.6" y1="130.6" x2="1034.6" y2="192.6" stroke="#be1e2d" stroke-width="0.9" stroke-opacity="0.85"/>
<line x1="1032.9" y1="130.6" x2="1036.3" y2="130.6" stroke="#be1e2d" stroke-width="0.9" stroke-opacity="0.85"/>
<line x1="1032.9" y1="192.6" x2="1036.3" y2="192.6" stroke="#be1e2d" stroke-width="0.9" stroke-opacity="0.85"/>
<line x1="857.3" y1="127.9" x2="857.3" y2="181.1" stroke="#45283c" stroke-width="0.9" stroke-opacity="0.85"/>
<line x1="855.6" y1="127.9" x2="859" y2="127.9" stroke="#45283c" stroke-width="0.9" stroke-opacity="0.85"/>
<line x1="855.6" y1="181.1" x2="859" y2="181.1" stroke="#45283c" stroke-width="0.9" stroke-opacity="0.85"/>
<line x1="916.5" y1="140.9" x2="916.5" y2="171.5" stroke="#45283c" stroke-width="0.9" stroke-opacity="0.85"/>
<line x1="914.8" y1="140.9" x2="918.2" y2="140.9" stroke="#45283c" stroke-width="0.9" stroke-opacity="0.85"/>
<line x1="914.8" y1="171.5" x2="918.2" y2="171.5" stroke="#45283c" stroke-width="0.9" stroke-opacity="0.85"/>
<line x1="975.6" y1="155.8" x2="975.6" y2="198.8" stroke="#45283c" stroke-width="0.9" stroke-opacity="0.85"/>
<line x1="973.9" y1="155.8" x2="977.3" y2="155.8" stroke="#45283c" stroke-width="0.9" stroke-opacity="0.85"/>
<line x1="973.9" y1="198.8" x2="977.3" y2="198.8" stroke="#45283c" stroke-width="0.9" stroke-opacity="0.85"/>
<line x1="1034.6" y1="135" x2="1034.6" y2="189" stroke="#45283c" stroke-width="0.9" stroke-opacity="0.85"/>
<line x1="1032.9" y1="135" x2="1036.3" y2="135" stroke="#45283c" stroke-width="0.9" stroke-opacity="0.85"/>
<line x1="1032.9" y1="189" x2="1036.3" y2="189" stroke="#45283c" stroke-width="0.9" stroke-opacity="0.85"/>
<polyline points="857.3,113.6 916.5,138.3 975.6,173.4 1034.6,162.5" fill="none" stroke="#46767b" stroke-width="1.3" stroke-linejoin="round"/>
<circle cx="857.3" cy="113.6" r="1.3" fill="#46767b"/>
<circle cx="916.5" cy="138.3" r="1.3" fill="#46767b"/>
<circle cx="975.6" cy="173.4" r="1.3" fill="#46767b"/>
<circle cx="1034.6" cy="162.5" r="1.3" fill="#46767b"/>
<polyline points="857.3,123.5 916.5,138.2 975.6,190.1 1034.6,158" fill="none" stroke="#73b8d7" stroke-width="1.3" stroke-linejoin="round"/>
<circle cx="857.3" cy="123.5" r="1.3" fill="#73b8d7"/>
<circle cx="916.5" cy="138.2" r="1.3" fill="#73b8d7"/>
<circle cx="975.6" cy="190.1" r="1.3" fill="#73b8d7"/>
<circle cx="1034.6" cy="158" r="1.3" fill="#73b8d7"/>
<polyline points="857.3,150.8 916.5,160.4 975.6,174.9 1034.6,164.5" fill="none" stroke="#ee8643" stroke-width="1.3" stroke-linejoin="round"/>
<circle cx="857.3" cy="150.8" r="1.3" fill="#ee8643"/>
<circle cx="916.5" cy="160.4" r="1.3" fill="#ee8643"/>
<circle cx="975.6" cy="174.9" r="1.3" fill="#ee8643"/>
<circle cx="1034.6" cy="164.5" r="1.3" fill="#ee8643"/>
<polyline points="857.3,130.4 916.5,145.8 975.6,163.3 1034.6,161.6" fill="none" stroke="#be1e2d" stroke-width="1.3" stroke-linejoin="round"/>
<circle cx="857.3" cy="130.4" r="1.3" fill="#be1e2d"/>
<circle cx="916.5" cy="145.8" r="1.3" fill="#be1e2d"/>
<circle cx="975.6" cy="163.3" r="1.3" fill="#be1e2d"/>
<circle cx="1034.6" cy="161.6" r="1.3" fill="#be1e2d"/>
<polyline points="857.3,154.5 916.5,156.2 975.6,177.3 1034.6,162" fill="none" stroke="#45283c" stroke-width="1.3" stroke-linejoin="round"/>
<circle cx="857.3" cy="154.5" r="1.3" fill="#45283c"/>
<circle cx="916.5" cy="156.2" r="1.3" fill="#45283c"/>
<circle cx="975.6" cy="177.3" r="1.3" fill="#45283c"/>
<circle cx="1034.6" cy="162" r="1.3" fill="#45283c"/>
<line x1="818.8" y1="44.95" x2="818.8" y2="217.55" stroke="#000" stroke-width="2.1"/>
<line x1="812.5" y1="216.5" x2="1075" y2="216.5" stroke="#000" stroke-width="2.1"/>
<line x1="812.8" y1="216.5" x2="818.8" y2="216.5" stroke="#000" stroke-width="2.1"/>
<text x="809.8" y="221.7" font-size="15.4" text-anchor="end" fill="#000" font-weight="bold">0</text>
<line x1="812.8" y1="173.88" x2="818.8" y2="173.88" stroke="#000" stroke-width="2.1"/>
<text x="809.8" y="179.07" font-size="15.4" text-anchor="end" fill="#000" font-weight="bold">20</text>
<line x1="812.8" y1="131.25" x2="818.8" y2="131.25" stroke="#000" stroke-width="2.1"/>
<text x="809.8" y="136.45" font-size="15.4" text-anchor="end" fill="#000" font-weight="bold">40</text>
<line x1="812.8" y1="88.62" x2="818.8" y2="88.62" stroke="#000" stroke-width="2.1"/>
<text x="809.8" y="93.83" font-size="15.4" text-anchor="end" fill="#000" font-weight="bold">60</text>
<line x1="812.8" y1="46" x2="818.8" y2="46" stroke="#000" stroke-width="2.1"/>
<text x="809.8" y="51.2" font-size="15.4" text-anchor="end" fill="#000" font-weight="bold">80</text>
<line x1="857.3" y1="216.5" x2="857.3" y2="223" stroke="#000" stroke-width="2.1"/>
<text x="857.3" y="239.3" font-size="15" text-anchor="middle" fill="#000" font-weight="bold">1</text>
<line x1="916.5" y1="216.5" x2="916.5" y2="223" stroke="#000" stroke-width="2.1"/>
<text x="916.5" y="239.3" font-size="15" text-anchor="middle" fill="#000" font-weight="bold">2</text>
<line x1="975.6" y1="216.5" x2="975.6" y2="223" stroke="#000" stroke-width="2.1"/>
<text x="975.6" y="239.3" font-size="15" text-anchor="middle" fill="#000" font-weight="bold">3</text>
<line x1="1034.6" y1="216.5" x2="1034.6" y2="223" stroke="#000" stroke-width="2.1"/>
<text x="1034.6" y="239.3" font-size="15" text-anchor="middle" fill="#000" font-weight="bold">4</text>
<text x="938" y="261.3" font-size="15.9" text-anchor="middle" fill="#000" font-weight="bold">time (day)</text>
<text x="786.2" y="128.5" font-size="15.6" text-anchor="middle" fill="#000" font-weight="bold" textLength="115.5" lengthAdjust="spacingAndGlyphs" transform="rotate(-90 786.2 128.5)">escape latency (s)</text>
</g>
<line x1="1082.8" y1="65.6" x2="1097.8" y2="65.6" stroke="#45283c" stroke-width="1.35"/>
<circle cx="1090.3" cy="65.6" r="1.6" fill="#45283c"/>
<text x="1106.9" y="69.5" font-size="11.6" text-anchor="start" fill="#111" style="font-kerning:normal">CON</text>
<line x1="1082.8" y1="84.8" x2="1097.8" y2="84.8" stroke="#be1e2d" stroke-width="1.35"/>
<circle cx="1090.3" cy="84.8" r="1.6" fill="#be1e2d"/>
<text x="1106.9" y="88.7" font-size="11.6" text-anchor="start" fill="#111" style="font-kerning:normal">DM</text>
<line x1="1082.8" y1="104.4" x2="1097.8" y2="104.4" stroke="#ee8643" stroke-width="1.35"/>
<circle cx="1090.3" cy="104.4" r="1.6" fill="#ee8643"/>
<text x="1106.9" y="108.3" font-size="11.6" text-anchor="start" fill="#111" style="font-kerning:normal">MET</text>
<line x1="1082.8" y1="123.5" x2="1097.8" y2="123.5" stroke="#73b8d7" stroke-width="1.35"/>
<circle cx="1090.3" cy="123.5" r="1.6" fill="#73b8d7"/>
<text x="1106.9" y="127.4" font-size="11.6" text-anchor="start" fill="#111" style="font-kerning:normal">LYAP</text>
<line x1="1082.8" y1="144.4" x2="1097.8" y2="144.4" stroke="#46767b" stroke-width="1.35"/>
<circle cx="1090.3" cy="144.4" r="1.6" fill="#46767b"/>
<text x="1106.9" y="148.3" font-size="11.6" text-anchor="start" fill="#111" style="font-kerning:normal">HYAP</text>
<text x="938" y="305" font-size="26.3" text-anchor="middle" fill="#000">(C)</text>
<g transform="translate(0 0.25)">
<line x1="1242" y1="129.2" x2="1242" y2="145.2" stroke="#46767b" stroke-width="0.9" stroke-opacity="0.85"/>
<line x1="1240.3" y1="129.2" x2="1243.7" y2="129.2" stroke="#46767b" stroke-width="0.9" stroke-opacity="0.85"/>
<line x1="1240.3" y1="145.2" x2="1243.7" y2="145.2" stroke="#46767b" stroke-width="0.9" stroke-opacity="0.85"/>
<line x1="1300.8" y1="127.7" x2="1300.8" y2="151.7" stroke="#46767b" stroke-width="0.9" stroke-opacity="0.85"/>
<line x1="1299.1" y1="127.7" x2="1302.5" y2="127.7" stroke="#46767b" stroke-width="0.9" stroke-opacity="0.85"/>
<line x1="1299.1" y1="151.7" x2="1302.5" y2="151.7" stroke="#46767b" stroke-width="0.9" stroke-opacity="0.85"/>
<line x1="1359.6" y1="123.2" x2="1359.6" y2="141.2" stroke="#46767b" stroke-width="0.9" stroke-opacity="0.85"/>
<line x1="1357.9" y1="123.2" x2="1361.3" y2="123.2" stroke="#46767b" stroke-width="0.9" stroke-opacity="0.85"/>
<line x1="1357.9" y1="141.2" x2="1361.3" y2="141.2" stroke="#46767b" stroke-width="0.9" stroke-opacity="0.85"/>
<line x1="1418.6" y1="130.25" x2="1418.6" y2="152.25" stroke="#46767b" stroke-width="0.9" stroke-opacity="0.85"/>
<line x1="1416.9" y1="130.25" x2="1420.3" y2="130.25" stroke="#46767b" stroke-width="0.9" stroke-opacity="0.85"/>
<line x1="1416.9" y1="152.25" x2="1420.3" y2="152.25" stroke="#46767b" stroke-width="0.9" stroke-opacity="0.85"/>
<line x1="1242" y1="117.75" x2="1242" y2="139.75" stroke="#73b8d7" stroke-width="0.9" stroke-opacity="0.85"/>
<line x1="1240.3" y1="117.75" x2="1243.7" y2="117.75" stroke="#73b8d7" stroke-width="0.9" stroke-opacity="0.85"/>
<line x1="1240.3" y1="139.75" x2="1243.7" y2="139.75" stroke="#73b8d7" stroke-width="0.9" stroke-opacity="0.85"/>
<line x1="1300.8" y1="122.2" x2="1300.8" y2="142.2" stroke="#73b8d7" stroke-width="0.9" stroke-opacity="0.85"/>
<line x1="1299.1" y1="122.2" x2="1302.5" y2="122.2" stroke="#73b8d7" stroke-width="0.9" stroke-opacity="0.85"/>
<line x1="1299.1" y1="142.2" x2="1302.5" y2="142.2" stroke="#73b8d7" stroke-width="0.9" stroke-opacity="0.85"/>
<line x1="1359.6" y1="118" x2="1359.6" y2="144" stroke="#73b8d7" stroke-width="0.9" stroke-opacity="0.85"/>
<line x1="1357.9" y1="118" x2="1361.3" y2="118" stroke="#73b8d7" stroke-width="0.9" stroke-opacity="0.85"/>
<line x1="1357.9" y1="144" x2="1361.3" y2="144" stroke="#73b8d7" stroke-width="0.9" stroke-opacity="0.85"/>
<line x1="1418.6" y1="128" x2="1418.6" y2="152" stroke="#73b8d7" stroke-width="0.9" stroke-opacity="0.85"/>
<line x1="1416.9" y1="128" x2="1420.3" y2="128" stroke="#73b8d7" stroke-width="0.9" stroke-opacity="0.85"/>
<line x1="1416.9" y1="152" x2="1420.3" y2="152" stroke="#73b8d7" stroke-width="0.9" stroke-opacity="0.85"/>
<line x1="1242" y1="116.7" x2="1242" y2="170.1" stroke="#ee8643" stroke-width="0.9" stroke-opacity="0.85"/>
<line x1="1240.3" y1="116.7" x2="1243.7" y2="116.7" stroke="#ee8643" stroke-width="0.9" stroke-opacity="0.85"/>
<line x1="1240.3" y1="170.1" x2="1243.7" y2="170.1" stroke="#ee8643" stroke-width="0.9" stroke-opacity="0.85"/>
<line x1="1300.8" y1="103.7" x2="1300.8" y2="142.9" stroke="#ee8643" stroke-width="0.9" stroke-opacity="0.85"/>
<line x1="1299.1" y1="103.7" x2="1302.5" y2="103.7" stroke="#ee8643" stroke-width="0.9" stroke-opacity="0.85"/>
<line x1="1299.1" y1="142.9" x2="1302.5" y2="142.9" stroke="#ee8643" stroke-width="0.9" stroke-opacity="0.85"/>
<line x1="1359.6" y1="117" x2="1359.6" y2="141" stroke="#ee8643" stroke-width="0.9" stroke-opacity="0.85"/>
<line x1="1357.9" y1="117" x2="1361.3" y2="117" stroke="#ee8643" stroke-width="0.9" stroke-opacity="0.85"/>
<line x1="1357.9" y1="141" x2="1361.3" y2="141" stroke="#ee8643" stroke-width="0.9" stroke-opacity="0.85"/>
<line x1="1418.6" y1="113.2" x2="1418.6" y2="135.6" stroke="#ee8643" stroke-width="0.9" stroke-opacity="0.85"/>
<line x1="1416.9" y1="113.2" x2="1420.3" y2="113.2" stroke="#ee8643" stroke-width="0.9" stroke-opacity="0.85"/>
<line x1="1416.9" y1="135.6" x2="1420.3" y2="135.6" stroke="#ee8643" stroke-width="0.9" stroke-opacity="0.85"/>
<line x1="1242" y1="94.6" x2="1242" y2="109.8" stroke="#be1e2d" stroke-width="0.9" stroke-opacity="0.85"/>
<line x1="1240.3" y1="94.6" x2="1243.7" y2="94.6" stroke="#be1e2d" stroke-width="0.9" stroke-opacity="0.85"/>
<line x1="1240.3" y1="109.8" x2="1243.7" y2="109.8" stroke="#be1e2d" stroke-width="0.9" stroke-opacity="0.85"/>
<line x1="1300.8" y1="136.8" x2="1300.8" y2="154.8" stroke="#be1e2d" stroke-width="0.9" stroke-opacity="0.85"/>
<line x1="1299.1" y1="136.8" x2="1302.5" y2="136.8" stroke="#be1e2d" stroke-width="0.9" stroke-opacity="0.85"/>
<line x1="1299.1" y1="154.8" x2="1302.5" y2="154.8" stroke="#be1e2d" stroke-width="0.9" stroke-opacity="0.85"/>
<line x1="1359.6" y1="83.8" x2="1359.6" y2="162.4" stroke="#be1e2d" stroke-width="0.9" stroke-opacity="0.85"/>
<line x1="1357.9" y1="83.8" x2="1361.3" y2="83.8" stroke="#be1e2d" stroke-width="0.9" stroke-opacity="0.85"/>
<line x1="1357.9" y1="162.4" x2="1361.3" y2="162.4" stroke="#be1e2d" stroke-width="0.9" stroke-opacity="0.85"/>
<line x1="1418.6" y1="94.3" x2="1418.6" y2="153.7" stroke="#be1e2d" stroke-width="0.9" stroke-opacity="0.85"/>
<line x1="1416.9" y1="94.3" x2="1420.3" y2="94.3" stroke="#be1e2d" stroke-width="0.9" stroke-opacity="0.85"/>
<line x1="1416.9" y1="153.7" x2="1420.3" y2="153.7" stroke="#be1e2d" stroke-width="0.9" stroke-opacity="0.85"/>
<line x1="1242" y1="60.2" x2="1242" y2="77.6" stroke="#45283c" stroke-width="0.9" stroke-opacity="0.85"/>
<line x1="1240.3" y1="60.2" x2="1243.7" y2="60.2" stroke="#45283c" stroke-width="0.9" stroke-opacity="0.85"/>
<line x1="1240.3" y1="77.6" x2="1243.7" y2="77.6" stroke="#45283c" stroke-width="0.9" stroke-opacity="0.85"/>
<line x1="1300.8" y1="120.2" x2="1300.8" y2="158.2" stroke="#45283c" stroke-width="0.9" stroke-opacity="0.85"/>
<line x1="1299.1" y1="120.2" x2="1302.5" y2="120.2" stroke="#45283c" stroke-width="0.9" stroke-opacity="0.85"/>
<line x1="1299.1" y1="158.2" x2="1302.5" y2="158.2" stroke="#45283c" stroke-width="0.9" stroke-opacity="0.85"/>
<line x1="1359.6" y1="106.7" x2="1359.6" y2="145.1" stroke="#45283c" stroke-width="0.9" stroke-opacity="0.85"/>
<line x1="1357.9" y1="106.7" x2="1361.3" y2="106.7" stroke="#45283c" stroke-width="0.9" stroke-opacity="0.85"/>
<line x1="1357.9" y1="145.1" x2="1361.3" y2="145.1" stroke="#45283c" stroke-width="0.9" stroke-opacity="0.85"/>
<line x1="1418.6" y1="73.6" x2="1418.6" y2="135.2" stroke="#45283c" stroke-width="0.9" stroke-opacity="0.85"/>
<line x1="1416.9" y1="73.6" x2="1420.3" y2="73.6" stroke="#45283c" stroke-width="0.9" stroke-opacity="0.85"/>
<line x1="1416.9" y1="135.2" x2="1420.3" y2="135.2" stroke="#45283c" stroke-width="0.9" stroke-opacity="0.85"/>
<polyline points="1242,137.2 1300.8,139.7 1359.6,132.2 1418.6,141.25" fill="none" stroke="#46767b" stroke-width="1.3" stroke-linejoin="round"/>
<circle cx="1242" cy="137.2" r="1.3" fill="#46767b"/>
<circle cx="1300.8" cy="139.7" r="1.3" fill="#46767b"/>
<circle cx="1359.6" cy="132.2" r="1.3" fill="#46767b"/>
<circle cx="1418.6" cy="141.25" r="1.3" fill="#46767b"/>
<polyline points="1242,128.75 1300.8,132.2 1359.6,131 1418.6,140" fill="none" stroke="#73b8d7" stroke-width="1.3" stroke-linejoin="round"/>
<circle cx="1242" cy="128.75" r="1.3" fill="#73b8d7"/>
<circle cx="1300.8" cy="132.2" r="1.3" fill="#73b8d7"/>
<circle cx="1359.6" cy="131" r="1.3" fill="#73b8d7"/>
<circle cx="1418.6" cy="140" r="1.3" fill="#73b8d7"/>
<polyline points="1242,143.4 1300.8,123.3 1359.6,129 1418.6,124.4" fill="none" stroke="#ee8643" stroke-width="1.3" stroke-linejoin="round"/>
<circle cx="1242" cy="143.4" r="1.3" fill="#ee8643"/>
<circle cx="1300.8" cy="123.3" r="1.3" fill="#ee8643"/>
<circle cx="1359.6" cy="129" r="1.3" fill="#ee8643"/>
<circle cx="1418.6" cy="124.4" r="1.3" fill="#ee8643"/>
<polyline points="1242,102.2 1300.8,145.8 1359.6,123.1 1418.6,124" fill="none" stroke="#be1e2d" stroke-width="1.3" stroke-linejoin="round"/>
<circle cx="1242" cy="102.2" r="1.3" fill="#be1e2d"/>
<circle cx="1300.8" cy="145.8" r="1.3" fill="#be1e2d"/>
<circle cx="1359.6" cy="123.1" r="1.3" fill="#be1e2d"/>
<circle cx="1418.6" cy="124" r="1.3" fill="#be1e2d"/>
<polyline points="1242,68.9 1300.8,139.2 1359.6,125.9 1418.6,104.4" fill="none" stroke="#45283c" stroke-width="1.3" stroke-linejoin="round"/>
<circle cx="1242" cy="68.9" r="1.3" fill="#45283c"/>
<circle cx="1300.8" cy="139.2" r="1.3" fill="#45283c"/>
<circle cx="1359.6" cy="125.9" r="1.3" fill="#45283c"/>
<circle cx="1418.6" cy="104.4" r="1.3" fill="#45283c"/>
<line x1="1203" y1="46.8" x2="1203" y2="219.05" stroke="#000" stroke-width="2.1"/>
<line x1="1196.8" y1="218" x2="1458.5" y2="218" stroke="#000" stroke-width="2.1"/>
<line x1="1197" y1="218" x2="1203" y2="218" stroke="#000" stroke-width="2.1"/>
<text x="1194.6" y="223.6" font-size="15.4" text-anchor="end" fill="#000" font-weight="bold">0</text>
<line x1="1197" y1="175.46" x2="1203" y2="175.46" stroke="#000" stroke-width="2.1"/>
<text x="1194.6" y="181.06" font-size="15.4" text-anchor="end" fill="#000" font-weight="bold">10</text>
<line x1="1197" y1="132.93" x2="1203" y2="132.93" stroke="#000" stroke-width="2.1"/>
<text x="1194.6" y="138.53" font-size="15.4" text-anchor="end" fill="#000" font-weight="bold">20</text>
<line x1="1197" y1="90.39" x2="1203" y2="90.39" stroke="#000" stroke-width="2.1"/>
<text x="1194.6" y="95.99" font-size="15.4" text-anchor="end" fill="#000" font-weight="bold">30</text>
<line x1="1197" y1="47.85" x2="1203" y2="47.85" stroke="#000" stroke-width="2.1"/>
<text x="1194.6" y="53.45" font-size="15.4" text-anchor="end" fill="#000" font-weight="bold">40</text>
<line x1="1242" y1="218" x2="1242" y2="224.5" stroke="#000" stroke-width="2.1"/>
<text x="1242" y="240.5" font-size="15" text-anchor="middle" fill="#000" font-weight="bold">1</text>
<line x1="1300.8" y1="218" x2="1300.8" y2="224.5" stroke="#000" stroke-width="2.1"/>
<text x="1300.8" y="240.5" font-size="15" text-anchor="middle" fill="#000" font-weight="bold">2</text>
<line x1="1359.6" y1="218" x2="1359.6" y2="224.5" stroke="#000" stroke-width="2.1"/>
<text x="1359.6" y="240.5" font-size="15" text-anchor="middle" fill="#000" font-weight="bold">3</text>
<line x1="1418.6" y1="218" x2="1418.6" y2="224.5" stroke="#000" stroke-width="2.1"/>
<text x="1418.6" y="240.5" font-size="15" text-anchor="middle" fill="#000" font-weight="bold">4</text>
<text x="1330" y="268.3" font-size="15.9" text-anchor="middle" fill="#000" font-weight="bold">time (day)</text>
<text x="1171.4" y="130.4" font-size="15.6" text-anchor="middle" fill="#000" font-weight="bold" textLength="157" lengthAdjust="spacingAndGlyphs" transform="rotate(-90 1171.4 130.4)">swimming speed (cm/s)</text>
</g>
<line x1="1469.8" y1="80.3" x2="1484.8" y2="80.3" stroke="#45283c" stroke-width="1.35"/>
<circle cx="1477.3" cy="80.3" r="1.6" fill="#45283c"/>
<text x="1493.6" y="84.2" font-size="11.6" text-anchor="start" fill="#111" style="font-kerning:normal">CON</text>
<line x1="1469.8" y1="97" x2="1484.8" y2="97" stroke="#be1e2d" stroke-width="1.35"/>
<circle cx="1477.3" cy="97" r="1.6" fill="#be1e2d"/>
<text x="1493.6" y="100.9" font-size="11.6" text-anchor="start" fill="#111" style="font-kerning:normal">DM</text>
<line x1="1469.8" y1="113.9" x2="1484.8" y2="113.9" stroke="#ee8643" stroke-width="1.35"/>
<circle cx="1477.3" cy="113.9" r="1.6" fill="#ee8643"/>
<text x="1493.6" y="117.8" font-size="11.6" text-anchor="start" fill="#111" style="font-kerning:normal">MET</text>
<line x1="1469.8" y1="130.7" x2="1484.8" y2="130.7" stroke="#73b8d7" stroke-width="1.35"/>
<circle cx="1477.3" cy="130.7" r="1.6" fill="#73b8d7"/>
<text x="1493.6" y="134.6" font-size="11.6" text-anchor="start" fill="#111" style="font-kerning:normal">LYAP</text>
<line x1="1469.8" y1="147.4" x2="1484.8" y2="147.4" stroke="#46767b" stroke-width="1.35"/>
<circle cx="1477.3" cy="147.4" r="1.6" fill="#46767b"/>
<text x="1493.6" y="151.3" font-size="11.6" text-anchor="start" fill="#111" style="font-kerning:normal">HYAP</text>
<text x="1339" y="303.8" font-size="26.3" text-anchor="middle" fill="#000">(D)</text>
</svg>
</body>
</html>
